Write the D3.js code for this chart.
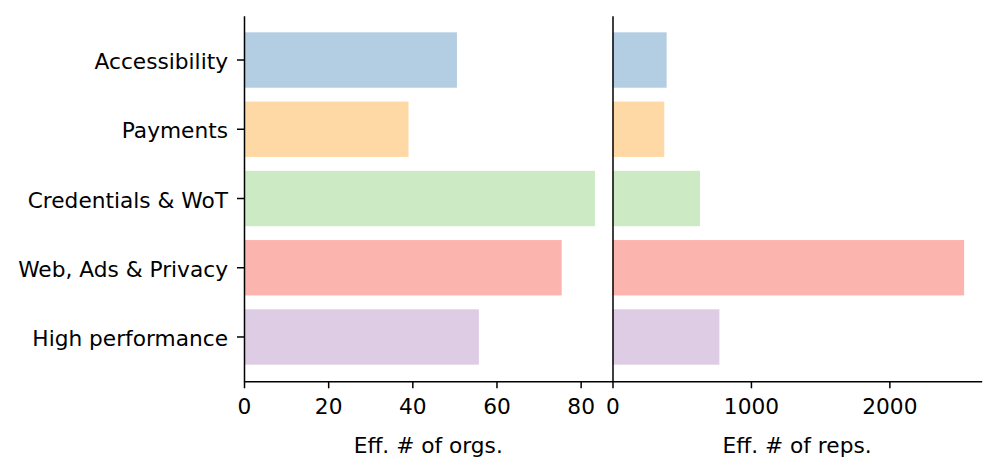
<!DOCTYPE html>
<html>
<head>
<meta charset="utf-8">
<script src="https://cdn.jsdelivr.net/npm/d3@7"></script>
<style>
  body { margin: 0; background: #fff; }
  svg text { font-family: 'DejaVu Sans', sans-serif; fill: #000; }
</style>
</head>
<body>
<div id="chart"></div>
<script>
const categories = ['Accessibility', 'Payments', 'Credentials & WoT', 'Web, Ads & Privacy', 'High performance'];
const colors = ['#b3cde3', '#fed9a6', '#ccebc5', '#fbb4ae', '#decbe4'];
const orgs = [50.6, 39.1, 83.4, 75.5, 55.8];
const reps = [391, 374, 632, 2540, 772];
const orgTicks = [0, 20, 40, 60, 80];
const repTicks = [0, 1000, 2000];

const width = 997, height = 464;
const fontSize = 21.7;
const plotTop = 15.7, plotBottom = 381.3;
const leftX0 = 244, midX = 612.5, rightX1 = 981.7;

let svg = d3.select('#chart').append('svg')
  .attr('width', width)
  .attr('height', height);

let yScale = d3.scaleBand()
  .domain(categories)
  .range([plotTop, plotBottom])
  .paddingInner(0.2)
  .paddingOuter(0.24);

function drawPanel(values, ticks, x0, x1, label, showY) {
  let maxV = d3.max(values) * 1.05;
  let xScale = d3.scaleLinear().domain([0, maxV]).range([x0, x1]);

  svg.append('g')
    .selectAll('rect')
    .data(values)
    .enter()
    .append('rect')
    .attr('x', xScale(0))
    .attr('y', (d, i) => yScale(categories[i]))
    .attr('width', (d) => xScale(d) - xScale(0))
    .attr('height', yScale.bandwidth())
    .attr('fill', (d, i) => colors[i]);

  let xAxis = d3.axisBottom(xScale)
    .tickValues(ticks)
    .tickFormat(d3.format('d'))
    .tickSize(7)
    .tickPadding(10.5)
    .tickSizeOuter(0);

  let gx = svg.append('g')
    .attr('transform', 'translate(0,' + plotBottom + ')')
    .call(xAxis);
  gx.select('.domain').attr('stroke-width', 1.5).attr('stroke', '#000');
  gx.selectAll('.tick line').attr('stroke-width', 1.5).attr('stroke', '#000');
  gx.selectAll('.tick text')
    .attr('font-size', fontSize)
    .attr('font-family', "'DejaVu Sans', sans-serif")
    .attr('fill', '#000')
    .attr('dy', '0.71em');

  svg.append('text')
    .attr('x', (x0 + x1) / 2)
    .attr('y', 452.5)
    .attr('text-anchor', 'middle')
    .attr('font-size', fontSize)
    .text(label);

  let yAxis = d3.axisLeft(yScale)
    .tickSize(showY ? 7 : 0)
    .tickPadding(9)
    .tickSizeOuter(0);

  let gy = svg.append('g')
    .attr('transform', 'translate(' + x0 + ',0)')
    .call(yAxis);
  gy.select('.domain').attr('stroke-width', 1.5).attr('stroke', '#000');
  gy.selectAll('.tick line').attr('stroke-width', 1.5).attr('stroke', '#000');
  gy.selectAll('.tick text')
    .attr('font-size', fontSize)
    .attr('font-family', "'DejaVu Sans', sans-serif")
    .attr('fill', '#000')
    .attr('dy', '0.42em');
  if (!showY) {
    gy.selectAll('.tick').remove();
  }
}

drawPanel(orgs, orgTicks, leftX0, midX, 'Eff. # of orgs.', true);
drawPanel(reps, repTicks, midX, rightX1, 'Eff. # of reps.', false);
</script>
</body>
</html>
